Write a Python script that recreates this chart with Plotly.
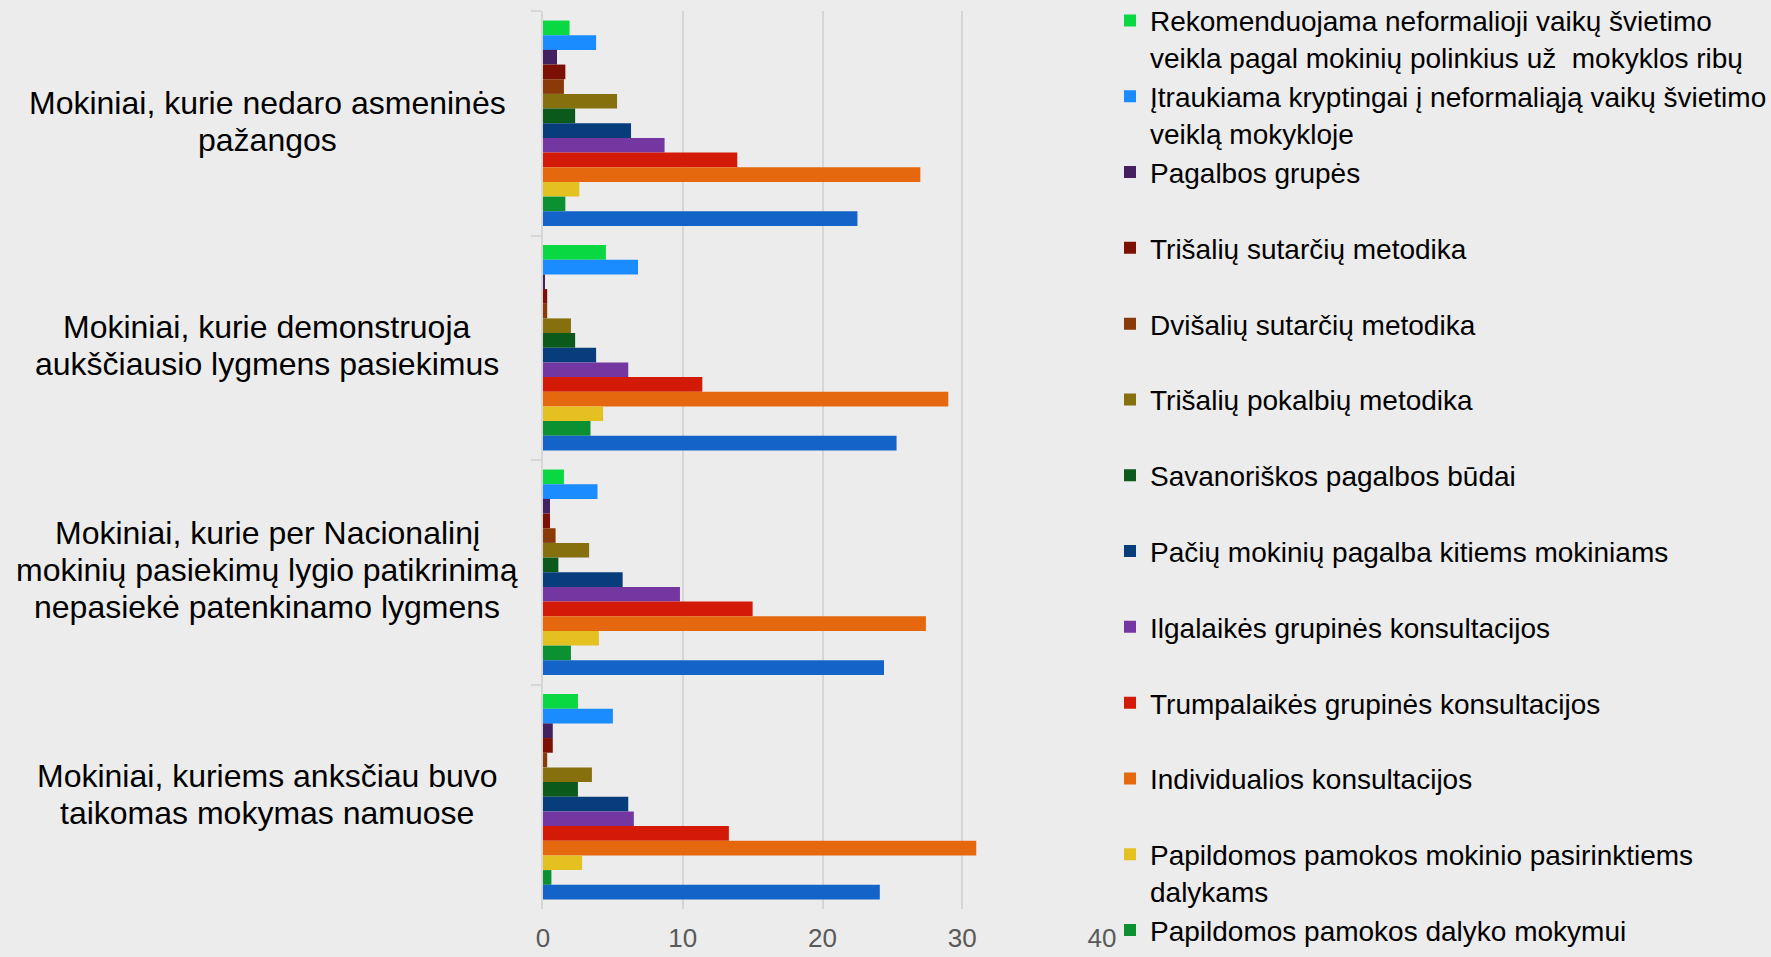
import plotly.graph_objects as go

categories = [
    "Mokiniai, kurie nedaro asmeninės pažangos",
    "Mokiniai, kurie demonstruoja aukščiausio lygmens pasiekimus",
    "Mokiniai, kurie per Nacionalinį mokinių pasiekimų lygio patikrinimą nepasiekė patenkinamo lygmens",
    "Mokiniai, kuriems anksčiau buvo taikomas mokymas namuose",
]
category_labels = [
    "Mokiniai, kurie nedaro asmeninės<br>pažangos",
    "Mokiniai, kurie demonstruoja<br>aukščiausio lygmens pasiekimus",
    "Mokiniai, kurie per Nacionalinį<br>mokinių pasiekimų lygio patikrinimą<br>nepasiekė patenkinamo lygmens",
    "Mokiniai, kuriems anksčiau buvo<br>taikomas mokymas namuose",
]

series_names = [
    "Rekomenduojama neformalioji vaikų švietimo<br>veikla pagal mokinių polinkius už&nbsp; mokyklos ribų",
    "Įtraukiama kryptingai į neformaliąją vaikų švietimo<br>veiklą mokykloje",
    "Pagalbos grupės",
    "Trišalių sutarčių metodika",
    "Dvišalių sutarčių metodika",
    "Trišalių pokalbių metodika",
    "Savanoriškos pagalbos būdai",
    "Pačių mokinių pagalba kitiems mokiniams",
    "Ilgalaikės grupinės konsultacijos",
    "Trumpalaikės grupinės konsultacijos",
    "Individualios konsultacijos",
    "Papildomos pamokos mokinio pasirinktiems<br>dalykams",
    "Papildomos pamokos dalyko mokymui",
    "Kita",
]

# values per series, in category order
rekomenduojama = [1.9, 4.5, 1.5, 2.5]
itraukiama = [3.8, 6.8, 3.9, 5.0]
pagalbos_grupes = [1.0, 0.1, 0.5, 0.7]
trisaliu_sutarciu = [1.6, 0.3, 0.5, 0.7]
dvisaliu_sutarciu = [1.5, 0.3, 0.9, 0.3]
trisaliu_pokalbiu = [5.3, 2.0, 3.3, 3.5]
savanoriskos = [2.3, 2.3, 1.1, 2.5]
paciu_mokiniu = [6.3, 3.8, 5.7, 6.1]
ilgalaikes = [8.7, 6.1, 9.8, 6.5]
trumpalaikes = [13.9, 11.4, 15.0, 13.3]
individualios = [27.0, 29.0, 27.4, 31.0]
papild_pasirinktiems = [2.6, 4.3, 4.0, 2.8]
papild_dalyko = [1.6, 3.4, 2.0, 0.6]
kita = [22.5, 25.3, 24.4, 24.1]

series_values = [
    rekomenduojama, itraukiama, pagalbos_grupes, trisaliu_sutarciu,
    dvisaliu_sutarciu, trisaliu_pokalbiu, savanoriskos, paciu_mokiniu,
    ilgalaikes, trumpalaikes, individualios, papild_pasirinktiems,
    papild_dalyko, kita,
]

colors = [
    "#0AD843", "#1A8CFF", "#43205F", "#7D1005", "#8A3A08", "#86700E",
    "#0B5A1C", "#083D7C", "#7436A0", "#D21A06", "#E5680E", "#E4C021",
    "#0C9132", "#1463C8",
]

x_ticks = [0, 10, 20, 30, 40]

FONT = "Liberation Sans, Arial"

fig = go.Figure()
n = len(series_names)
for i, (name, vals, col) in enumerate(zip(series_names, series_values, colors)):
    legend_name = name
    if "<br>" not in name and i != n - 2:
        legend_name = name + "<br>&nbsp;"
    fig.add_trace(go.Bar(
        y=categories, x=vals, name=legend_name, orientation="h",
        marker=dict(color=col, line=dict(width=0)),
        showlegend=(i != n - 1),
    ))

LINE_STEP = 37
for cat, lab in zip(categories, category_labels):
    lines = lab.split("<br>")
    k = len(lines)
    for j, line in enumerate(lines):
        fig.add_annotation(
            x=-0.4937, xref="paper", y=cat, yref="y", text=line,
            showarrow=False, xanchor="center", yanchor="middle", align="center",
            yshift=((k - 1) / 2 - j) * LINE_STEP + 2,
            font=dict(family=FONT, size=32, color="#000000"),
        )

fig.update_layout(
    width=1771, height=957,
    margin=dict(l=543, r=669, t=11, b=48, autoexpand=False),
    paper_bgcolor="#ECECEC", plot_bgcolor="#ECECEC",
    barmode="group", bargap=0.085, bargroupgap=0,
    font=dict(family=FONT, color="#000000"),
    legend=dict(
        x=1.0143, xanchor="left", y=1.017, yanchor="top",
        font=dict(family=FONT, size=28, color="#000000"),
        valign="top", bgcolor="rgba(0,0,0,0)", borderwidth=0,
        traceorder="normal", itemclick=False, maxheight=957,
    ),
    xaxis=dict(
        range=[0, 40], tickvals=x_ticks, ticktext=[str(t) for t in x_ticks],
        showgrid=True, gridcolor="#D6D6D6", gridwidth=2, zeroline=False,
        showline=False, ticks="", ticklabelstandoff=11,
        tickfont=dict(family=FONT, size=26, color="#595959"),
    ),
    yaxis=dict(
        autorange="reversed", showticklabels=False, showgrid=False,
        showline=True, linecolor="#D6D6D6", linewidth=2,
        ticks="outside", tickson="boundaries", ticklen=10,
        tickcolor="#D6D6D6", tickwidth=2,
    ),
)

fig.write_html(
    "out.html",
    config={"displayModeBar": False},
    post_script="document.body.style.margin='0px';",
)
